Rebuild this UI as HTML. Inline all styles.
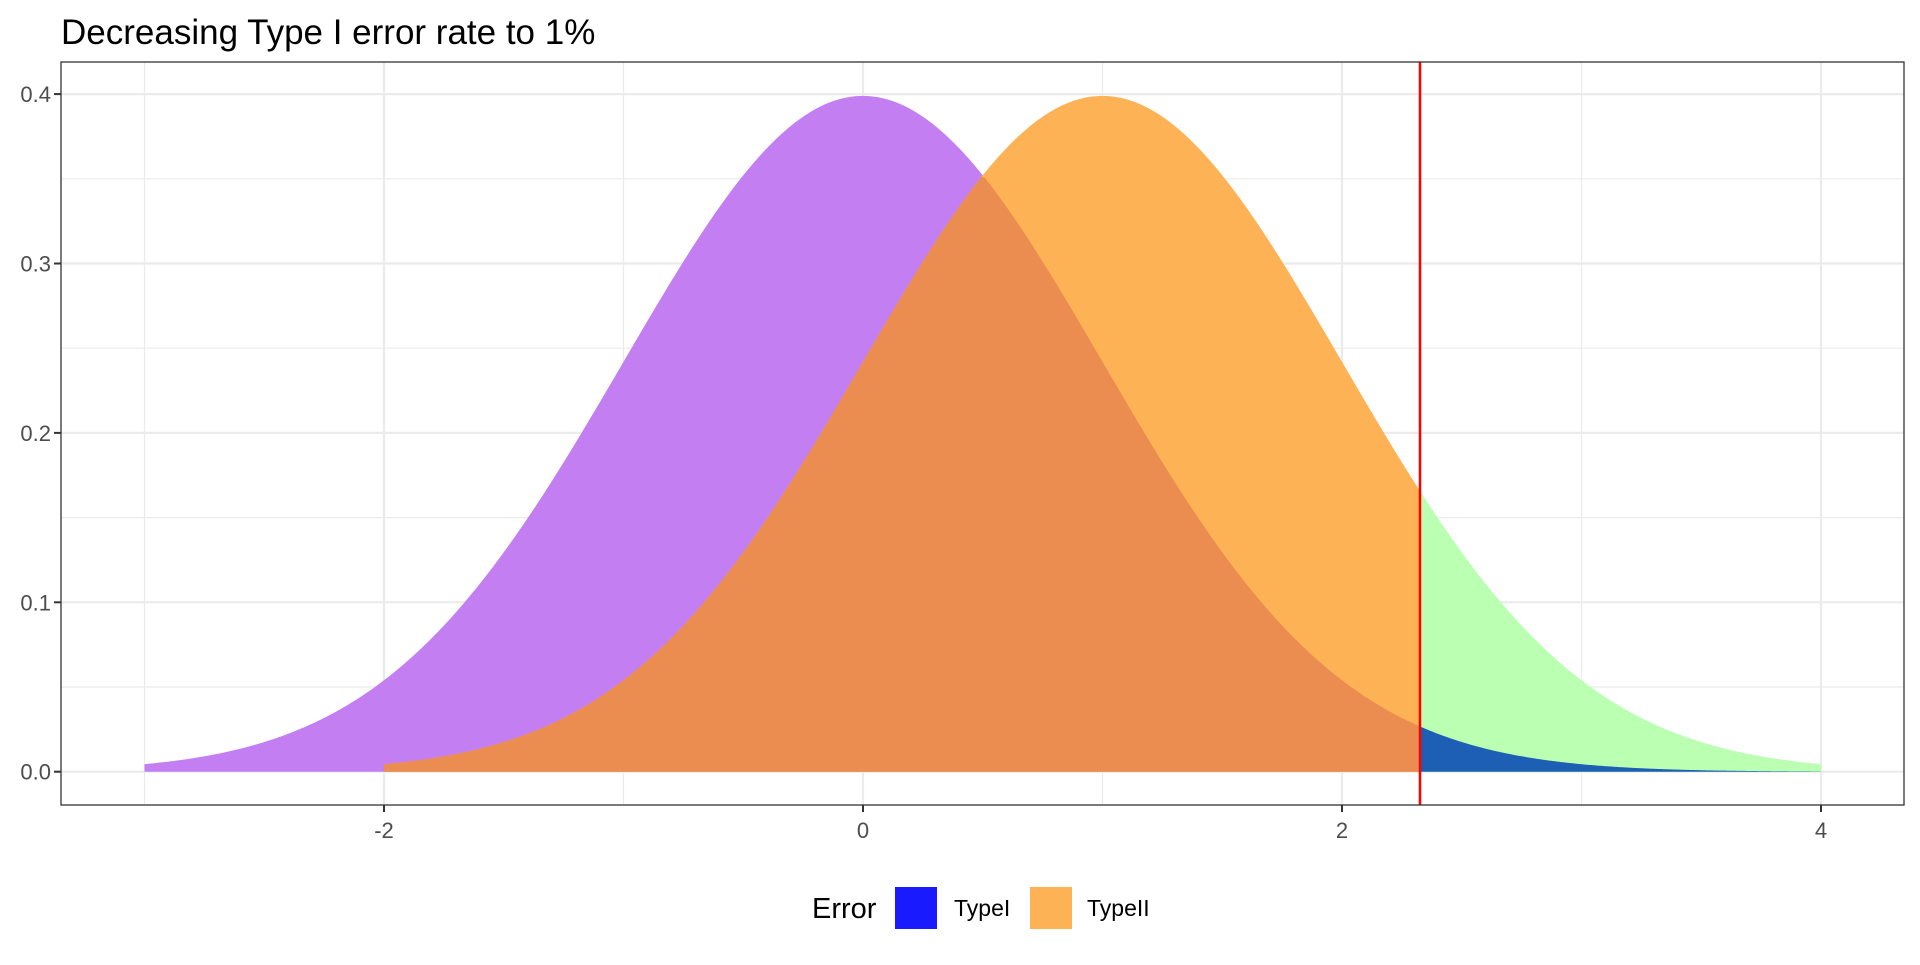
<!DOCTYPE html>
<html><head><meta charset="utf-8"><style>
html,body{margin:0;padding:0;background:#fff;}
svg text{font-family:"Liberation Sans",Arial,sans-serif;}
</style></head><body>
<svg id="s" width="1920" height="960" xmlns="http://www.w3.org/2000/svg">
<rect width="1920" height="960" fill="#fff"/>
<text x="61" y="44" font-size="35" fill="#000">Decreasing Type I error rate to 1%</text>
<g id="grid"></g>
<g id="fills"></g>
<line x1="1420" y1="62" x2="1420" y2="805" stroke="#ff0000" stroke-width="2.5"/>
<rect x="61" y="62" width="1843" height="743" fill="none" stroke="#333" stroke-width="1.3"/>
<g id="axes" font-size="22" fill="#4d4d4d"></g>
<text x="812" y="918" font-size="29" fill="#000">Error</text>
<rect x="895" y="887" width="42" height="42" fill="#1a1aff"/>
<text x="954" y="916" font-size="23" fill="#000">TypeI</text>
<rect x="1030" y="887" width="42" height="42" fill="#fdb355"/>
<text x="1087" y="916" font-size="23" fill="#000">TypeII</text>
</svg>
<script>
const X=x=>863+x*239.5, Y=y=>771.7-y*1694;
const d=(x,m)=>Math.exp(-0.5*(x-m)*(x-m))/Math.sqrt(2*Math.PI);
const ns="http://www.w3.org/2000/svg";
function el(p,t,a){const e=document.createElementNS(ns,t);for(const k in a)e.setAttribute(k,a[k]);document.getElementById(p).appendChild(e);return e;}
for(const x of [-3,-1,1,3]) el("grid","line",{x1:X(x),x2:X(x),y1:62,y2:805,stroke:"#ebebeb","stroke-width":1.2});
for(const y of [0.05,0.15,0.25,0.35]) el("grid","line",{x1:61,x2:1904,y1:Y(y),y2:Y(y),stroke:"#ebebeb","stroke-width":1.2});
for(const x of [-2,0,2,4]) el("grid","line",{x1:X(x),x2:X(x),y1:62,y2:805,stroke:"#ebebeb","stroke-width":2.2});
for(const y of [0,0.1,0.2,0.3,0.4]) el("grid","line",{x1:61,x2:1904,y1:Y(y),y2:Y(y),stroke:"#ebebeb","stroke-width":2.2});
function area(a,b,f,col){let p=`M${X(a)},${Y(0)}`;const n=300;for(let i=0;i<=n;i++){const x=a+(b-a)*i/n;p+=`L${X(x).toFixed(2)},${Y(f(x)).toFixed(2)}`;}p+=`L${X(b)},${Y(0)}Z`;el("fills","path",{d:p,fill:col});}
const c=2.326;
area(-3,c,x=>d(x,0),"#c37ef2");
area(-2,c,x=>d(x,1),"#fdb355");
area(-2,c,x=>Math.min(d(x,0),d(x,1)),"#eb8c50");
area(c,4,x=>d(x,1),"#bbffb3");
area(c,4,x=>d(x,0),"#1c5fb4");
for(const x of [-2,0,2,4]){el("axes","line",{x1:X(x),x2:X(x),y1:805,y2:812,stroke:"#333","stroke-width":2});const t=el("axes","text",{x:X(x),y:838,"text-anchor":"middle"});t.textContent=x;}
for(const y of [0,0.1,0.2,0.3,0.4]){el("axes","line",{x1:54,x2:61,y1:Y(y),y2:Y(y),stroke:"#333","stroke-width":2});const t=el("axes","text",{x:51,y:Y(y)+8,"text-anchor":"end"});t.textContent=y.toFixed(1);}
</script>
</body></html>
